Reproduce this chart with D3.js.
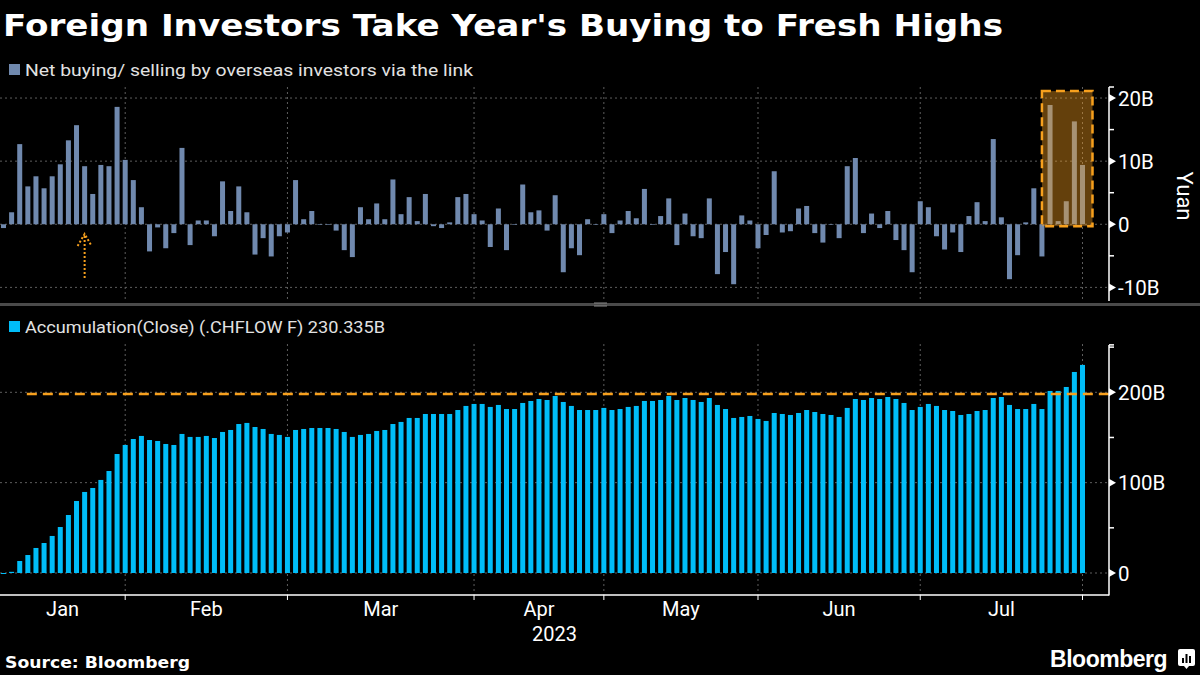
<!DOCTYPE html>
<html>
<head>
<meta charset="utf-8">
<script src="https://cdn.jsdelivr.net/npm/d3@7"></script>
<style>
  body { margin: 0; background: #000; }
  svg { display: block; font-family: Roboto, "Liberation Sans", sans-serif; }
</style>
</head>
<body>
<svg id="chart" width="1200" height="675"></svg>
<script>
// daily net buying via the link, billion yuan (one value per trading day, Jan 3 - Jul 31 2023)
var daily = [
  -0.6, 1.9, 12.7, 6.0, 7.6, 5.7, 7.6, 9.5, 13.3, 15.7, 9.2, 4.8, 9.4, 9.2, 18.6, 10.2,
  7.0, 2.7, -4.3, -0.5, -3.8, -1.4, 12.1, -3.3, 0.6, 0.6, -1.9, 6.8, 2.1, 6.0, 1.9, -4.8, -2.2, -5.1, -1.9, -1.3,
  7.0, 0.8, 2.1, -0.1, -0.1, -1.0, -4.1, -5.2, 2.7, 0.8, 3.3, 0.8, 7.1, 1.6, 4.3, 0.5, 4.8, -0.3, -0.6, 0.3, 4.3, 4.8, 1.6,
  0.6, -3.6, 2.5, -4.1, -0.1, 6.3, 1.9, 2.2, -1.0, 4.6, -7.6, -3.8, -4.9, 0.8, -0.1, 1.6,
  -1.4, 0.6, 2.1, 0.95, 5.6, -0.1, 1.3, 4.1, -3.3, 1.7, -1.9, -2.2, 4.1, -7.9, -4.4, -9.5, 1.4, 0.6, -3.8,
  -1.7, 8.4, -1.3, -1.1, 2.5, 2.9, -1.4, -2.9, -0.1, -2.2, 9.2, 10.5, -1.4, 1.7, -0.6, 2.1, -2.5, -4.1, -7.6, 3.65,
  2.7, -1.9, -4.0, -1.3, -4.4, 1.3, 3.5, 0.5, 13.5, 1.1, -8.7, -4.9, 0.3, 5.7, -5.1, 18.9, 0.5, 3.65, 16.3, 9.4
];

// accumulation (close), billion yuan
var accum = [
  -0.6, 1.3, 13.3, 19.9, 27.7, 33.2, 41.0, 50.9, 64.2, 79.7, 89.7, 94.1, 103.0, 112.9, 131.7, 141.7,
  148.3, 151.7, 147.2, 146.1, 142.8, 141.7, 153.9, 150.6, 150.6, 151.7, 149.4, 156.1, 158.3, 164.9, 166.1, 161.6, 159.4, 153.9, 152.8, 150.6,
  158.3, 159.4, 160.5, 160.5, 160.5, 159.4, 156.1, 150.6, 152.8, 153.9, 157.2, 158.3, 164.9, 167.2, 171.6, 171.6, 176.0, 176.0, 176.0, 176.0, 180.4, 184.9, 187.1,
  187.1, 183.8, 186.0, 181.5, 181.5, 188.2, 190.4, 192.6, 191.5, 195.9, 189.3, 184.9, 180.4, 180.4, 180.4, 182.7,
  180.4, 181.5, 183.8, 184.9, 190.4, 190.4, 191.5, 195.9, 191.5, 193.7, 191.5, 189.3, 193.7, 186.0, 181.5, 171.6, 172.7, 173.8, 170.5,
  168.3, 177.1, 176.0, 174.9, 177.1, 180.4, 178.2, 176.0, 174.9, 172.7, 182.7, 192.6, 191.5, 193.7, 192.6, 194.8, 192.6, 188.2, 180.4, 183.8,
  187.1, 184.9, 180.4, 179.3, 174.9, 176.0, 179.3, 180.4, 193.7, 194.8, 186.0, 181.5, 181.5, 187.1, 181.5, 201.5, 201.5, 205.9, 222.5, 230.3
];

var months = ["Jan", "Feb", "Mar", "Apr", "May", "Jun", "Jul"];
var monthEnd = [15, 35, 58, 74, 93, 113, 133];   // index of last trading day in each month
var topTicks = [-10, 0, 10, 20];
var topMinor = [-5, 5, 15];
var botTicks = [0, 100, 200];
var botMinor = [50, 150, 250];
var prevHigh = 198;
var boxDays = [128, 133];
var arrowDay = 10;

var svg = d3.select("#chart");
var W = 1200, axisX = 1109;
var gridCol = "#5e5e5e", barTop = "#7089ae", barBot = "#00bdf8", orange = "#f7a01d";

svg.append("rect").attr("width", W).attr("height", 675).attr("fill", "#000");

var x = d3.scaleLinear().domain([0, daily.length - 1]).range([3.5, 1082.5]);
var y1 = d3.scaleLinear().domain([-12, 21.75]).range([300, 87]);
var y2 = d3.scaleLinear().domain([0, 200]).range([573, 392.3]);

function fmt(v) { return v === 0 ? "0" : v + "B"; }

// ---- title & legends
svg.append("text").attr("x", 3).attr("y", 36)
  .attr("font-family", "'DejaVu Sans', sans-serif").attr("font-weight", "bold")
  .attr("font-size", 31).attr("fill", "#fff")
  .attr("textLength", 1000).attr("lengthAdjust", "spacingAndGlyphs")
  .text("Foreign Investors Take Year's Buying to Fresh Highs");

svg.append("rect").attr("x", 9).attr("y", 64).attr("width", 11).attr("height", 11).attr("fill", barTop);
svg.append("text").attr("x", 25).attr("y", 75.5).attr("font-size", 16.5).attr("fill", "#e2e2e2")
  .attr("textLength", 448).attr("lengthAdjust", "spacingAndGlyphs")
  .text("Net buying/ selling by overseas investors via the link");

svg.append("rect").attr("x", 9).attr("y", 321).attr("width", 11).attr("height", 11).attr("fill", barBot);
svg.append("text").attr("x", 25).attr("y", 332.5).attr("font-size", 16.5).attr("fill", "#e2e2e2")
  .attr("textLength", 360).attr("lengthAdjust", "spacingAndGlyphs")
  .text("Accumulation(Close) (.CHFLOW F) 230.335B");

// panel separator
svg.append("rect").attr("x", 0).attr("y", 303).attr("width", W).attr("height", 3).attr("fill", "#4a4a4a");
svg.append("rect").attr("x", 594).attr("y", 302.5).attr("width", 13).attr("height", 1).attr("fill", "#8a8a8a");
svg.append("rect").attr("x", 594).attr("y", 305.5).attr("width", 13).attr("height", 1).attr("fill", "#8a8a8a");

// ---- grids
var grid = svg.append("g").attr("stroke", gridCol).attr("stroke-dasharray", "2,3").attr("stroke-width", 1);
grid.selectAll(".ht").data(topTicks).enter().append("line")
  .attr("x1", 0).attr("x2", axisX).attr("y1", function (d) { return y1(d); }).attr("y2", function (d) { return y1(d); });
grid.selectAll(".hb").data(botTicks).enter().append("line")
  .attr("x1", 0).attr("x2", axisX).attr("y1", function (d) { return y2(d); }).attr("y2", function (d) { return y2(d); });
monthEnd.forEach(function (m) {
  grid.append("line").attr("x1", x(m)).attr("x2", x(m)).attr("y1", 87).attr("y2", 301);
  grid.append("line").attr("x1", x(m)).attr("x2", x(m)).attr("y1", 344).attr("y2", 595);
});

// ---- top bars
svg.append("g").selectAll("rect").data(daily).enter().append("rect")
  .attr("x", function (d, i) { return x(i) - 2.5; })
  .attr("width", 5)
  .attr("y", function (d) { return y1(Math.max(0, d)); })
  .attr("height", function (d) { return Math.abs(y1(d) - y1(0)); })
  .attr("fill", barTop);

// highlight box over the last days
svg.append("rect")
  .attr("x", x(boxDays[0])).attr("y", y1(21.1))
  .attr("width", x(boxDays[1]) + 10 - x(boxDays[0])).attr("height", y1(-0.3) - y1(21.1))
  .attr("fill", "rgba(250,160,30,0.4)")
  .attr("stroke", orange).attr("stroke-width", 2.5).attr("stroke-dasharray", "9,5");

// dotted arrow
var ax = x(arrowDay), atop = 234;
svg.append("path")
  .attr("d", "M" + ax + "," + (atop + 2) + "V278M" + (ax - 7) + "," + (atop + 12) + "L" + ax + "," + atop + "L" + (ax + 7) + "," + (atop + 12))
  .attr("fill", "none").attr("stroke", orange).attr("stroke-width", 2).attr("stroke-dasharray", "2,2");

// ---- bottom bars
svg.append("g").selectAll("rect").data(accum).enter().append("rect")
  .attr("x", function (d, i) { return x(i) - 2.5; })
  .attr("width", 5)
  .attr("y", function (d) { return y2(Math.max(0, d)); })
  .attr("height", function (d) { return Math.max(1, Math.abs(y2(d) - y2(0))); })
  .attr("fill", barBot);

// previous high line
svg.append("line")
  .attr("x1", x(3) - 1).attr("x2", axisX)
  .attr("y1", y2(prevHigh)).attr("y2", y2(prevHigh))
  .attr("stroke", orange).attr("stroke-width", 2.5).attr("stroke-dasharray", "10,6");

// ---- right axes
var axisG = svg.append("g").attr("fill", "#fff");
axisG.append("line").attr("x1", axisX).attr("x2", axisX).attr("y1", 87).attr("y2", 301)
  .attr("stroke", "#fff").attr("stroke-width", 1.5);
axisG.append("line").attr("x1", axisX).attr("x2", axisX).attr("y1", 345).attr("y2", 595.5)
  .attr("stroke", "#fff").attr("stroke-width", 1.5);

function ticks(scale, major, minor, extraTop) {
  major.forEach(function (v) {
    var yy = scale(v);
    axisG.append("path").attr("d", "M" + axisX + "," + (yy - 4) + "L" + (axisX + 7) + "," + yy + "L" + axisX + "," + (yy + 4) + "Z");
    axisG.append("text").attr("x", 1118).attr("y", yy + 7.5).attr("font-size", 20.5).text(fmt(v));
  });
  minor.concat([extraTop]).forEach(function (v) {
    axisG.append("line").attr("x1", axisX).attr("x2", axisX + 5).attr("y1", scale(v)).attr("y2", scale(v))
      .attr("stroke", "#fff").attr("stroke-width", 1.5);
  });
}
ticks(y1, topTicks, topMinor, 21.75);
ticks(y2, botTicks, botMinor, 252.5);

svg.append("text").attr("transform", "translate(1177,196) rotate(90)")
  .attr("text-anchor", "middle").attr("font-size", 22).attr("fill", "#fff").text("Yuan");

// ---- bottom x axis
svg.append("line").attr("x1", 0).attr("x2", axisX).attr("y1", 595).attr("y2", 595)
  .attr("stroke", "#fff").attr("stroke-width", 1.5);
monthEnd.forEach(function (m, i) {
  svg.append("line").attr("x1", x(m)).attr("x2", x(m)).attr("y1", 595).attr("y2", 600)
    .attr("stroke", "#fff").attr("stroke-width", 1);
  var left = i === 0 ? 0 : x(monthEnd[i - 1]);
  svg.append("text").attr("x", (left + x(m)) / 2).attr("y", 615.5)
    .attr("text-anchor", "middle").attr("font-size", 20).attr("fill", "#fff").text(months[i]);
});
svg.append("text").attr("x", axisX / 2).attr("y", 641).attr("text-anchor", "middle")
  .attr("font-size", 20).attr("fill", "#fff").text("2023");

// ---- footer
svg.append("text").attr("x", 5).attr("y", 668)
  .attr("font-family", "'DejaVu Sans', sans-serif").attr("font-weight", "bold")
  .attr("font-size", 16).attr("fill", "#fff")
  .attr("textLength", 185).attr("lengthAdjust", "spacingAndGlyphs")
  .text("Source: Bloomberg");

svg.append("text").attr("x", 1167).attr("y", 667).attr("text-anchor", "end")
  .attr("font-family", "'Liberation Sans', Arial, sans-serif").attr("font-weight", "bold")
  .attr("font-size", 23).attr("fill", "#fff").attr("letter-spacing", -0.5).text("Bloomberg");
var logo = svg.append("g").attr("transform", "translate(1178,649)");
logo.append("rect").attr("width", 17).attr("height", 17).attr("rx", 2).attr("fill", "#fff");
logo.append("path").attr("d", "M6,17L8.5,20L11,17Z").attr("fill", "#fff");
[[4, 9, 2], [7.5, 5, 2], [11, 7, 2]].forEach(function (b) {
  logo.append("rect").attr("x", b[0]).attr("y", b[1]).attr("width", b[2]).attr("height", 14 - b[1]).attr("fill", "#000");
});
</script>
</body>
</html>
